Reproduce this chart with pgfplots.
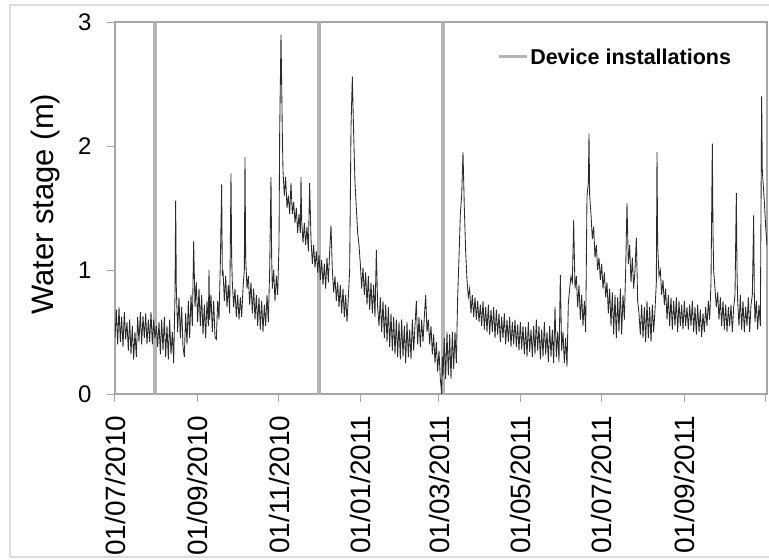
\documentclass[border=0pt]{standalone}
\usepackage{pgfplots}
\pgfplotsset{compat=1.18}
\usepackage{fontspec}
\setmainfont{Liberation Sans}
\definecolor{axgray}{HTML}{A6A6A6}
\definecolor{instgray}{HTML}{B4B4B4}
\definecolor{datagray}{HTML}{2A2A2A}
\definecolor{framegray}{HTML}{DCDCDC}
\begin{document}
\begin{tikzpicture}
\begin{axis}[
  name=ax, at={(0pt,0pt)}, anchor=south west,
  scale only axis, width=652pt, height=372pt,
  xmin=0, xmax=489, ymin=0, ymax=3,
  axis line style={axgray, line width=1.1pt},
  tick style={axgray, line width=1pt},
  major tick length=8pt, tick align=outside,
  xtick pos=bottom, ytick pos=left,
  xtick={0,62,123,184,243,304,365,427,488},
  xticklabels={01/07/2010,01/09/2010,01/11/2010,01/01/2011,01/03/2011,01/05/2011,01/07/2011,01/09/2011,},
  ytick={0,1,2,3},
  /pgf/number format/assume math mode=true,
  xticklabel style={rotate=90, anchor=east, font=\fontsize{28}{30}\selectfont, xshift=-10pt},
  yticklabel style={font=\fontsize{24}{26}\selectfont, xshift=-12pt},
  ylabel={Water stage (m)},
  ylabel style={at={(axis description cs:-0.107,0.51)}, anchor=center, font=\fontsize{31}{34}\selectfont},
  legend style={draw=none, fill=none, at={(0.586,0.906)}, anchor=west, inner sep=0pt,
    font=\bfseries\fontsize{21.5}{24}\selectfont},
  legend image code/.code={\draw[#1, line width=3pt] (0pt,0pt) -- (28pt,0pt);},
  clip=true,
]
\addplot[instgray, line width=4pt] coordinates {(30,0)(30,3)};
\addlegendentry{Device installations}
\addplot[instgray, line width=4pt, forget plot] coordinates {(153,0)(153,3)};
\addplot[instgray, line width=4pt, forget plot] coordinates {(246,0)(246,3)};
\addplot[datagray, line width=0.85pt, forget plot] coordinates {
(0,.45)(1,.68)(2,.40)(3,.70)(4,.42)(5,.62)(6,.38)(7,.66)(8,.44)(9,.58)
(10,.35)(11,.60)(12,.32)(13,.55)(14,.28)(15,.50)(16,.30)(17,.62)(18,.42)(19,.66)
(20,.40)(21,.63)(22,.45)(23,.65)(24,.40)(25,.60)(26,.42)(27,.66)(28,.40)(29,.60)
(30,.45)(31,.55)(32,.38)(33,.58)(34,.32)(35,.60)(36,.35)(37,.62)(38,.30)(39,.55)
(40,.28)(41,.60)(42,.32)(43,.50)(44,.25)(45,.80)(45.5,1.56)(46,.85)(47,.50)(48,.78)(49,.45)
(50,.70)(51,.38)(52,.30)(53,.65)(54,.40)(55,.75)(56,.45)(57,.80)(58,.55)(59,1.23)
(60,.70)(61,.90)(62,.58)(63,.85)(64,.55)(65,.80)(66,.48)(67,.72)(68,.45)(69,.75)
(70,.55)(70.5,1.0)(71,.60)(72,.80)(73,.50)(74,.75)(75,.46)(76,.44)(77,.75)(78,.60)(79,1.05)
(80,1.69)(80.5,.95)(81,1.0)(82,.75)(83,.95)(84,.70)(85,.88)(86,.65)(87,1.78)(87.5,1.1)(88,.90)(89,.70)
(90,.85)(91,.62)(92,.80)(93,.60)(94,.78)(95,.62)(96,.85)(97,1.0)(97.5,1.91)(98,1.1)(99,.85)
(100,.95)(101,.72)(102,.90)(103,.65)(104,.85)(105,.60)(106,.80)(107,.55)(108,.78)(109,.52)
(110,.75)(111,.50)(112,.72)(113,.55)(114,.80)(115,.58)(116,1.0)(117,1.75)(117.5,1.1)(118,.85)(119,1.0)
(120,.75)(121,.95)(122,.80)(123,1.2)(123.5,2.1)(124.5,2.9)(125.5,2.1)(126,1.8)(127,1.6)(128,1.75)(129,1.5)
(130,1.6)(131,1.45)(132,1.7)(133,1.45)(134,1.55)(135,1.38)(136,1.5)(137,1.3)(138,1.45)(139,1.3)(139.5,1.75)
(140,1.4)(141,1.22)(142,1.38)(143,1.2)(144,1.35)(145,1.15)(146,1.7)(147,1.25)(148,1.05)(149,1.2)
(150,1.02)(151,1.15)(152,.98)(153,1.12)(154,.92)(155,1.08)(156,.88)(157,1.05)(158,.85)(159,1.1)
(160,.9)(161,1.15)(162,1.36)(163,1.0)(164,.82)(165,.95)(166,.75)(167,.9)(168,.7)(169,.88)
(170,.65)(171,.85)(172,.62)(173,.8)(174,.58)(175,.78)(176,1.0)(177,2.15)(178,2.56)(179,2.1)
(180,1.7)(181,1.5)(182,1.3)(183,1.2)(184,1.05)(185,.85)(186,1.02)(187,.8)(188,.98)(189,.72)
(190,.95)(191,.68)(192,.9)(193,.65)(194,.88)(195,.62)(196,1.16)(197,.7)(198,.55)(199,.78)
(200,.5)(201,.75)(202,.45)(203,.72)(204,.42)(205,.7)(206,.38)(207,.65)(208,.35)(209,.62)
(210,.32)(211,.6)(212,.3)(213,.58)(214,.28)(215,.6)(216,.3)(217,.55)(218,.25)(219,.58)
(220,.3)(221,.52)(222,.28)(223,.6)(224,.35)(225,.55)(226,.75)(227,.4)(228,.62)(229,.38)
(230,.6)(231,.42)(232,.62)(233,.8)(234,.5)(235,.6)(236,.4)(237,.55)(238,.32)(239,.48)
(240,.25)(241,.42)(242,.18)(243,.35)(244,.12)(245,0.0)(245.5,.3)(246,.15)(247,.45)(248,.12)(249,.5)
(250,.15)(251,.48)(252,.12)(253,.5)(254,.2)(255,.5)(256,.25)(257,.78)(258,1.1)(259,1.45)
(260,1.6)(261,1.95)(262,1.5)(263,1.15)(264,.92)(265,.78)(266,.85)(267,.65)(268,.8)(269,.62)
(270,.78)(271,.6)(272,.75)(273,.58)(274,.72)(275,.55)(276,.75)(277,.52)(278,.7)(279,.5)
(280,.72)(281,.48)(282,.68)(283,.5)(284,.7)(285,.45)(286,.68)(287,.48)(288,.65)(289,.42)
(290,.62)(291,.45)(292,.65)(293,.4)(294,.6)(295,.42)(296,.62)(297,.38)(298,.58)(299,.4)
(300,.6)(301,.38)(302,.56)(303,.35)(304,.58)(305,.36)(306,.55)(307,.32)(308,.54)(309,.3)
(310,.58)(311,.34)(312,.52)(313,.3)(314,.55)(315,.32)(316,.6)(317,.35)(318,.55)(319,.28)
(320,.52)(321,.3)(322,.58)(323,.32)(324,.5)(325,.26)(326,.55)(327,.3)(328,.52)(329,.25)
(330,.7)(331,.3)(332,.5)(333,.26)(334,.96)(335,.35)(336,.5)(337,.25)(338,.45)(339,.22)
(340,.73)(341,.85)(342,.95)(343,.9)(344,1.4)(345,.85)(346,.95)(347,.7)(348,.88)(349,.6)
(350,.8)(351,.55)(352,.75)(353,.5)(354,1.6)(355,1.7)(355.5,2.1)(356,1.6)(357,1.45)(358,1.25)(359,1.35)
(360,1.1)(361,1.2)(362,1.0)(363,1.1)(364,.92)(365,1.05)(366,.85)(367,.98)(368,.78)(369,.9)
(370,.65)(371,.85)(372,.55)(373,.82)(374,.48)(375,.8)(376,.45)(377,.78)(378,.5)(379,.85)
(380,.48)(381,.8)(382,.6)(383,1.0)(384,1.54)(385,1.05)(386,1.2)(387,.9)(388,1.1)(389,.85)
(390,1.0)(391,1.26)(392,.75)(393,.65)(394,.48)(395,.72)(396,.45)(397,.7)(398,.42)(399,.75)
(400,.45)(401,.7)(402,.42)(403,.72)(404,.5)(405,.68)(406,.9)(406.5,1.95)(407,1.2)(408,.95)(409,1.0)
(410,.8)(411,.92)(412,.72)(413,.85)(414,.6)(415,.8)(416,.55)(417,.78)(418,.52)(419,.75)
(420,.55)(421,.78)(422,.5)(423,.75)(424,.55)(425,.72)(426,.52)(427,.75)(428,.55)(429,.7)
(430,.52)(431,.72)(432,.55)(433,.75)(434,.5)(435,.7)(436,.48)(437,.72)(438,.5)(439,.68)
(440,.46)(441,.65)(442,.5)(443,.7)(444,.55)(445,.75)(446,.6)(447,.9)(448,2.02)(448.5,1.3)(449,1.0)
(450,.85)(451,.7)(452,.82)(453,.6)(454,.78)(455,.55)(456,.75)(457,.52)(458,.72)(459,.5)
(460,.7)(461,.55)(462,.72)(463,.5)(464,.7)(465,.8)(466,1.62)(466.5,1.0)(467,.75)(468,.55)(469,.8)
(470,.52)(471,.75)(472,.5)(473,.7)(474,.55)(475,.78)(476,.5)(477,.72)(478,.8)(479,1.44)(479.5,.8)
(480,.58)(481,.75)(482,.52)(483,.72)(484,.55)(485,2.4)(485.5,1.8)(486,1.72)(487,1.55)(488,1.35)(489,1.2)
};
\end{axis}
\pgfresetboundingbox
\path[use as bounding box] ([shift={(-115pt,-166pt)}]ax.south west) rectangle ([shift={(654pt,394pt)}]ax.south west);
\draw[framegray, line width=2pt] ([shift={(675pt,389pt)}]ax.south west) -- ([shift={(-105pt,389pt)}]ax.south west) -- ([shift={(-105pt,-163pt)}]ax.south west) -- ([shift={(675pt,-163pt)}]ax.south west);
\end{tikzpicture}
\end{document}
